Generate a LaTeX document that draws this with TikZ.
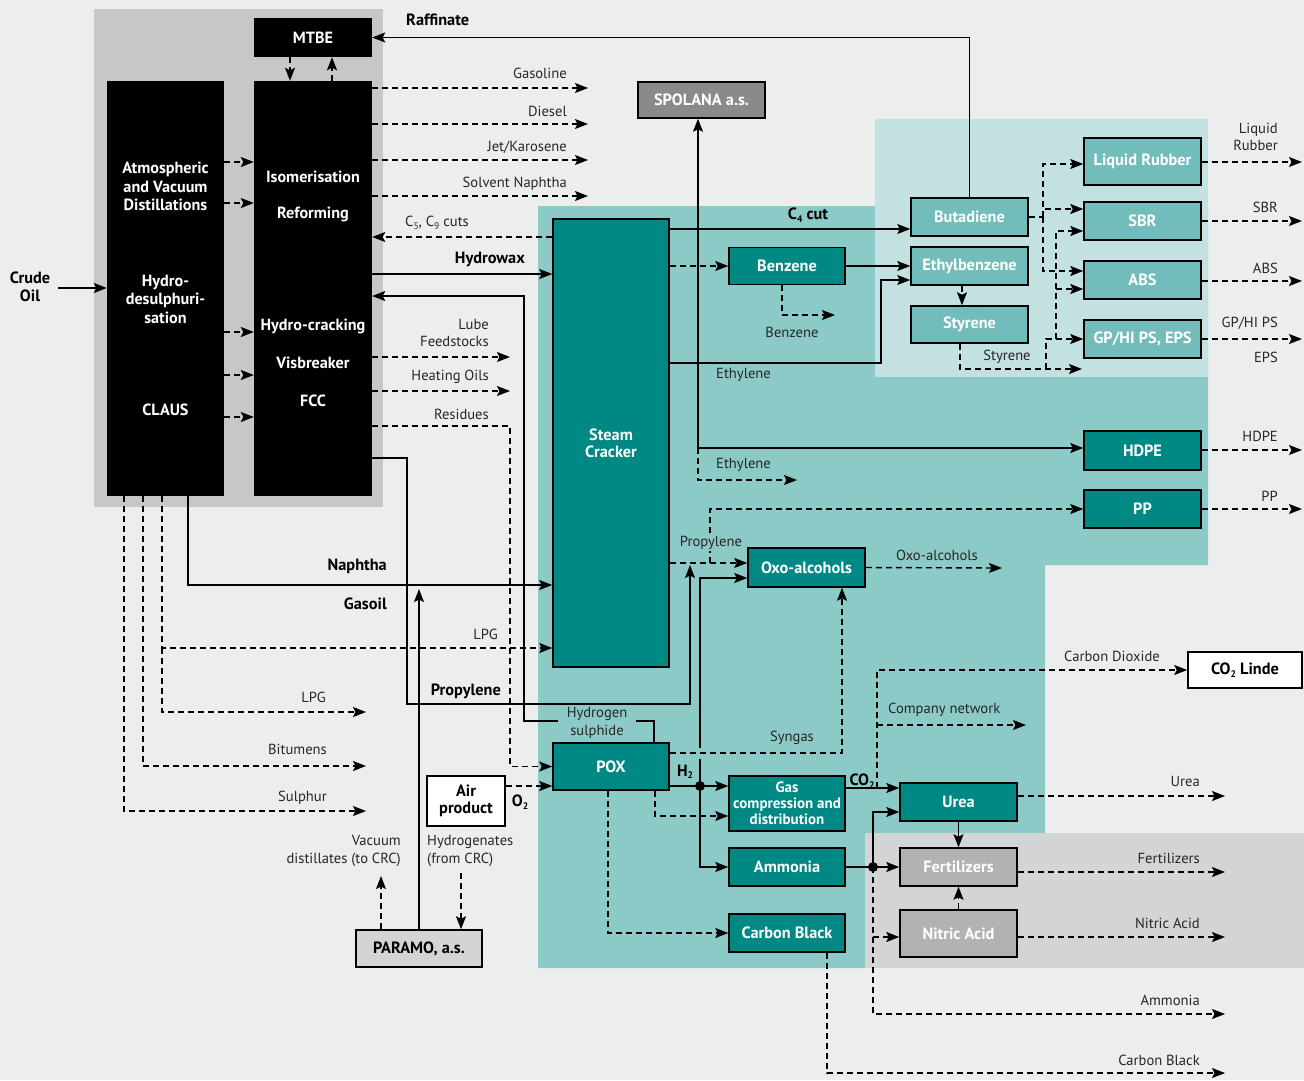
\documentclass[tikz,border=0pt]{standalone}
\usepackage{fontspec}
\setmainfont{PT Sans}
\usetikzlibrary{arrows.meta}
\definecolor{bgc}{HTML}{ECEEED}
\definecolor{refg}{HTML}{C6C7C9}
\definecolor{tealM}{HTML}{8CCAC8}
\definecolor{tealL}{HTML}{C2E1E0}
\definecolor{grayR}{HTML}{D3D4D6}
\definecolor{tealD}{HTML}{008884}
\definecolor{tealB}{HTML}{72BDBB}
\definecolor{grayB}{HTML}{B1B2B4}
\definecolor{spolc}{HTML}{898A8C}
\newcommand{\sbs}[1]{\raisebox{-2.5pt}{\fontsize{9.5}{9.5}\selectfont #1}}
\begin{document}
\begin{tikzpicture}[x=1pt,y=-1pt,
  lab/.style={inner sep=0pt,font=\fontsize{14.6}{17.5}\selectfont,text=black!85},
  blab/.style={inner sep=0pt,font=\bfseries\fontsize{16.3}{18}\selectfont},
  wlab/.style={inner sep=0pt,font=\bfseries\fontsize{16.2}{18.5}\selectfont,text=white,align=center},
  blk/.style={fill=black,draw=none,inner sep=0pt,text=white,font=\bfseries\fontsize{16.2}{18}\selectfont},
  bx/.style={draw=black,line width=1.5pt,inner sep=0pt,align=center,font=\bfseries\fontsize{16.3}{17}\selectfont},
  dbox/.style={bx,fill=tealD,text=white},
  lbox/.style={bx,fill=tealB,text=white},
  gbox/.style={bx,fill=grayB,text=white},
  ln/.style={line width=1.4pt},
  dsh/.style={dash pattern=on 6pt off 4pt},
  arr/.style={-{Stealth[length=13pt,width=10pt,inset=2.5pt]}}]
\useasboundingbox (0,0) rectangle (1304,1080);
\fill[bgc] (0,0) rectangle (1304,1080);
% regions
\fill[refg] (94,9) rectangle (383,507);
\fill[tealM] (538,206) -- (1208,206) -- (1208,565) -- (1045,565) -- (1045,833) -- (865,833) -- (865,968) -- (538,968) -- cycle;
\fill[grayR] (865,833) rectangle (1304,968);
\fill[tealL] (875,119) rectangle (1208,377);

% refinery boxes
\node[blk,minimum width=118,minimum height=39] (mtbe) at (313,37.5) {MTBE};
\node[blk,minimum width=117,minimum height=415] (lb) at (165.5,288.5) {};
\node[blk,minimum width=118,minimum height=415] (rb) at (313,288.5) {};
\node[wlab] (t1) at (165.5,186.5) {Atmospheric\\and Vacuum\\Distillations};
\node[wlab] (t2) at (165.5,299) {Hydro-\\desulphuri-\\sation};
\node[wlab] (t3) at (165.5,410) {CLAUS};
\node[wlab] (t4) at (313,177) {Isomerisation};
\node[wlab] (t5) at (313,214) {Reforming};
\node[wlab] (t6) at (313,326) {Hydro-cracking};
\node[wlab] (t7) at (313,363) {Visbreaker};
\node[wlab] (t8) at (313,401) {FCC};

% petrochemical boxes
\node[dbox,minimum width=116,minimum height=448] (sc) at (611,443) {Steam\\Cracker};
\node[bx,fill=spolc,text=white,minimum width=127,minimum height=36] (spol) at (701.5,100) {SPOLANA a.s.};
\node[dbox,minimum width=116,minimum height=37] (benz) at (787,266) {Benzene};
\node[lbox,minimum width=117,minimum height=38] (buta) at (969.5,217) {Butadiene};
\node[lbox,minimum width=117,minimum height=38] (ethb) at (969.5,266) {Ethylbenzene};
\node[lbox,minimum width=117,minimum height=37] (styr) at (969.5,324.5) {Styrene};
\node[lbox,minimum width=117,minimum height=47] (lrub) at (1142.5,161.5) {Liquid Rubber};
\node[lbox,minimum width=117,minimum height=38] (sbr) at (1142.5,221) {SBR};
\node[lbox,minimum width=117,minimum height=38] (absn) at (1142.5,280) {ABS};
\node[lbox,minimum width=117,minimum height=38] (gphi) at (1142.5,339) {GP/HI PS, EPS};
\node[dbox,minimum width=117,minimum height=39] (hdpe) at (1142.5,450.5) {HDPE};
\node[dbox,minimum width=117,minimum height=38] (pp) at (1142.5,509) {PP};
\node[dbox,minimum width=117,minimum height=39] (oxo) at (806.5,567.5) {Oxo-alcohols};
\node[dbox,minimum width=116,minimum height=47] (pox) at (611,766.5) {POX};
\node[dbox,minimum width=116,minimum height=55,font=\bfseries\fontsize{15}{16}\selectfont] (gas) at (787,803.5) {Gas\\compression and\\distribution};
\node[dbox,minimum width=116,minimum height=38] (amm) at (787,867) {Ammonia};
\node[dbox,minimum width=116,minimum height=38] (cb) at (787,933) {Carbon Black};
\node[dbox,minimum width=117,minimum height=38] (urea) at (958.5,802) {Urea};
\node[gbox,minimum width=117,minimum height=38] (fert) at (958.5,867) {Fertilizers};
\node[gbox,minimum width=117,minimum height=47] (nitr) at (958.5,933.5) {Nitric Acid};
\node[bx,fill=white,minimum width=114,minimum height=36] (co2l) at (1245,670) {CO\sbs{2} Linde};
\node[bx,fill=white,minimum width=78,minimum height=50] (air) at (466,801) {Air\\product};
\node[bx,fill=grayR,minimum width=126,minimum height=37] (param) at (419,948.5) {PARAMO, a.s.};

% free-end coordinates
\coordinate (crin) at (58,288);
\coordinate (oGas) at (588,88);
\coordinate (oDie) at (588,124);
\coordinate (oJet) at (588,160);
\coordinate (oSol) at (588,196);
\coordinate (oLub) at (510,357);
\coordinate (oHea) at (510,391);
\coordinate (oLPG) at (366,712);
\coordinate (oBit) at (366,766);
\coordinate (oSul) at (366,811);
\coordinate (oVac) at (381,876);
\coordinate (iHyd) at (461,873);
\coordinate (oBen) at (835,315);
\coordinate (oEth) at (797,480);
\coordinate (oSty) at (1082,369);
\coordinate (oOxo) at (1002,568);
\coordinate (oCom) at (1026,725);
\coordinate (oUre) at (1225,796);
\coordinate (oFer) at (1225,872);
\coordinate (oNit) at (1225,937);
\coordinate (oAmm) at (1225,1014);
\coordinate (oCB) at (1225,1073);
\coordinate (oLR) at (1302,162);
\coordinate (oSBR) at (1302,221);
\coordinate (oABS) at (1302,281);
\coordinate (oGP) at (1302,339);
\coordinate (oHD) at (1302,450);
\coordinate (oPP) at (1302,509);
\coordinate (jH2) at (700,786);
\coordinate (jNH) at (873,867);
\coordinate (jEt) at (698,448);
\coordinate (jCO) at (877,788);
\coordinate (jBu) at (1043,217);
\coordinate (h2sa) at (636,721);
\coordinate (h2sb) at (558,721);

% crude oil
\node[blab,align=center,font=\bfseries\fontsize{16.3}{18}\selectfont] (crude) at (30,287) {Crude\\Oil};
\draw[line width=2.2pt,arr] (crin) -- (lb.west |- crin);

% lb -> rb
\foreach \yy in {162,203,332,375,417} \draw[ln,dsh,arr] (lb.east |- 0,\yy) -- (rb.west |- 0,\yy);
% MTBE
\draw[ln,dsh,arr] (mtbe.south -| 290,0) -- (rb.north -| 290,0);
\draw[ln,dsh,arr] (rb.north -| 332,0) -- (mtbe.south -| 332,0);
\draw[ln,arr] (buta.north) |- (mtbe.east);
\node[blab,anchor=west] (lraf) at (406,20) {Raffinate};

% refinery products
\draw[ln,dsh,arr] (rb.east |- oGas) -- (oGas);
\draw[ln,dsh,arr] (rb.east |- oDie) -- (oDie);
\draw[ln,dsh,arr] (rb.east |- oJet) -- (oJet);
\draw[ln,dsh,arr] (rb.east |- oSol) -- (oSol);
\node[lab,anchor=east] (lgas) at (567,73) {Gasoline};
\node[lab,anchor=east] (ldie) at (567,111) {Diesel};
\node[lab,anchor=east] (ljet) at (567,147) {Jet/Karosene};
\node[lab,anchor=east] (lsol) at (567,184) {Solvent Naphtha};

\draw[ln,dsh,arr] (sc.west |- 0,237) -- (rb.east |- 0,237);
\node[lab,anchor=west] (lc59) at (405,223) {C\sbs{5}, C\sbs{9} cuts};
\draw[ln,arr] (rb.east |- 0,274) -- (sc.west |- 0,274);
\node[blab,anchor=east] (lhw) at (525,259) {Hydrowax};

% hydrogen sulphide
\draw[ln] (pox.north -| 654,0) |- (h2sa);
\draw[ln,arr] (h2sb) -| (524,296) -- (rb.east |- 0,296);
\node[lab,align=center,font=\fontsize{14.6}{18}\selectfont] (lh2s) at (597,723) {Hydrogen\\sulphide};

\draw[ln,dsh,arr] (rb.east |- oLub) -- (oLub);
\draw[ln,dsh,arr] (rb.east |- oHea) -- (oHea);
\node[lab,anchor=east,align=right] (llub) at (489,333) {Lube\\Feedstocks};
\node[lab,anchor=east] (lhea) at (489,377) {Heating Oils};
\draw[ln,dsh,arr] (rb.east |- 0,426) -- (510,426) |- (pox.west);
\node[lab,anchor=east] (lres) at (489,414) {Residues};

% propylene from FCC
\draw[ln,arr] (rb.east |- 0,458) -| (407,704) -| (690,565);
\node[blab,anchor=east] (lpro) at (501,691) {Propylene};

% naphtha, gasoil
\draw[ln,arr] (lb.south -| 188,0) |- (sc.west |- 0,585);
\node[blab,anchor=east] (lnap) at (387,566) {Naphtha};
\draw[ln,arr] (param.north) -- (419,589);
\node[blab,anchor=east] (lgso) at (387,604) {Gasoil};

% LPG, bitumens, sulphur
\draw[ln,dsh,arr] (lb.south -| 162,0) |- (sc.west |- 0,648);
\draw[ln,dsh,arr] (162,648) |- (oLPG);
\draw[ln,dsh,arr] (lb.south -| 143,0) |- (oBit);
\draw[ln,dsh,arr] (lb.south -| 124,0) |- (oSul);
\node[lab,anchor=east] (llpg1) at (498,634) {LPG};
\node[lab,anchor=east] (llpg2) at (326,697) {LPG};
\node[lab,anchor=east] (lbit) at (327,749) {Bitumens};
\node[lab,anchor=east] (lsul) at (327,798) {Sulphur};

% air product, paramo
\draw[ln,dsh,arr] (air.east |- 0,786) -- (pox.west |- 0,786);
\node[blab] (lo2) at (520,802) {O\sbs{2}};
\draw[ln,dsh,arr] (param.north -| oVac) -- (oVac);
\draw[ln,dsh,arr] (iHyd) -- (param.north -| iHyd);
\node[lab,anchor=east,align=right,font=\fontsize{14.6}{18}\selectfont] (lvac) at (401,851) {Vacuum\\distillates (to CRC)};
\node[lab,anchor=west,align=left,font=\fontsize{14.6}{18}\selectfont] (lhyd) at (427,851) {Hydrogenates\\(from CRC)};

% steam cracker outputs
\draw[ln,arr] (sc.east |- 0,229) -- (buta.west |- 0,229);
\node[blab] (lc4) at (808,215) {C\sbs{4} cut};
\draw[ln,dsh,arr] (sc.east |- benz.west) -- (benz.west);
\draw[ln,arr] (benz.east) -- (ethb.west);
\draw[ln,dsh,arr] (benz.south -| 782,0) |- (oBen);
\node[lab] (lben) at (792,332) {Benzene};
\draw[ln,arr] (sc.east |- 0,363) -| (881,280) -- (ethb.west |- 0,280);
\node[lab,anchor=west] (leth1) at (716,375) {Ethylene};
\draw[ln,arr] (jEt) -- (spol.south -| jEt);
\draw[ln,arr] (jEt) -- (hdpe.west |- jEt);
\draw[ln,dsh,arr] (jEt) |- (oEth);
\node[lab,anchor=west] (leth2) at (716,465) {Ethylene};

% propylene / PP / oxo
\draw[ln,dsh,arr] (710,563) |- (pp.west);
\draw[ln,dsh,arr] (sc.east |- 0,563) -- (oxo.west |- 0,563);
\node[lab,fill=tealM,inner sep=1pt] (lprp) at (711,543) {Propylene};
\draw[ln,dsh,arr] (oxo.east) -- (oOxo);
\node[lab] (loxo) at (937,555) {Oxo-alcohols};

% H2
\draw[ln,arr] (pox.east |- jH2) -- (gas.west |- jH2);
\draw[ln,arr] (700,748) |- (oxo.west |- 0,578);
\draw[ln] (jH2) -- (700,759);
\draw[ln,arr] (jH2) |- (amm.west);
\fill (jH2) circle (5);
\node[blab] (lh2) at (685,772) {H\sbs{2}};
% syngas
\draw[ln,dsh,arr] (pox.east |- 0,753) -| (oxo.south -| 842,0);
\node[lab] (lsyn) at (792,738) {Syngas};
% pox -> gas, cb
\draw[ln,dsh,arr] (pox.south -| 655,0) |- (gas.west |- 0,816);
\draw[ln,dsh,arr] (pox.south -| 608,0) |- (cb.west);
\draw[ln,dsh,arr] (cb.south -| 827,0) |- (oCB);
\node[lab,anchor=east] (lcb) at (1200,1060) {Carbon Black};

% CO2
\draw[ln,arr] (gas.east |- jCO) -- (urea.west |- jCO);
\node[blab] (lco2) at (862,781) {CO\sbs{2}};
\draw[ln,dsh,arr] (jCO) |- (co2l.west);
\draw[ln,dsh,arr] (877,725) -- (oCom);
\node[lab] (lcd) at (1112,656) {Carbon Dioxide};
\node[lab,anchor=west] (lcn) at (888,710) {Company network};

% ammonia
\draw[ln,arr] (amm.east) -- (fert.west);
\draw[ln,arr] (jNH) |- (urea.west |- 0,812);
\draw[ln,dsh,arr] (jNH) |- (oAmm);
\draw[ln,dsh,arr] (873,937) -- (nitr.west |- 0,937);
\fill (jNH) circle (5);
\draw[ln,arr] (urea.south) -- (fert.north);
\draw[ln,dsh,arr] (nitr.north) -- (fert.south);
\draw[ln,dsh,arr] (urea.east |- oUre) -- (oUre);
\draw[ln,dsh,arr] (fert.east |- oFer) -- (oFer);
\draw[ln,dsh,arr] (nitr.east |- oNit) -- (oNit);
\node[lab,anchor=east] (lure) at (1200,781) {Urea};
\node[lab,anchor=east] (lfer) at (1200,858) {Fertilizers};
\node[lab,anchor=east] (lnit) at (1200,923) {Nitric Acid};
\node[lab,anchor=east] (lamm) at (1200,1000) {Ammonia};

% polymers outputs
\draw[ln,dsh,arr] (hdpe.east |- oHD) -- (oHD);
\draw[ln,dsh,arr] (pp.east |- oPP) -- (oPP);
\draw[ln,dsh,arr] (lrub.east |- oLR) -- (oLR);
\draw[ln,dsh,arr] (sbr.east |- oSBR) -- (oSBR);
\draw[ln,dsh,arr] (absn.east |- oABS) -- (oABS);
\draw[ln,dsh,arr] (gphi.east |- oGP) -- (oGP);
\node[lab,anchor=east,align=right] (llr) at (1278,137) {Liquid\\Rubber};
\node[lab,anchor=east] (lsbr) at (1278,207) {SBR};
\node[lab,anchor=east] (labs) at (1278,268) {ABS};
\node[lab,anchor=east] (lgp) at (1278,323) {GP/HI PS};
\node[lab,anchor=east] (leps) at (1278,357) {EPS};
\node[lab,anchor=east] (lhd) at (1278,436) {HDPE};
\node[lab,anchor=east] (lpp) at (1278,496) {PP};

% butadiene distribution
\draw[ln,dsh] (buta.east) -- (jBu);
\draw[ln,dsh,arr] (jBu) |- (lrub.west |- 0,164);
\draw[ln,dsh,arr] (jBu) |- (sbr.west |- 0,209);
\draw[ln,dsh,arr] (jBu) |- (absn.west |- 0,271);
% styrene
\draw[ln,dsh,arr] (ethb.south -| 962,0) -- (styr.north -| 962,0);
\draw[ln,dsh,arr] (styr.south -| 960,0) |- (oSty);
\draw[ln,dsh,arr] (1046,369) |- (gphi.west);
\draw[ln,dsh,arr] (1056,339) |- (sbr.west |- 0,231);
\draw[ln,dsh,arr] (1056,289) -- (absn.west |- 0,289);
\node[lab] (lsty) at (1007,357) {Styrene};
\end{tikzpicture}
\end{document}
